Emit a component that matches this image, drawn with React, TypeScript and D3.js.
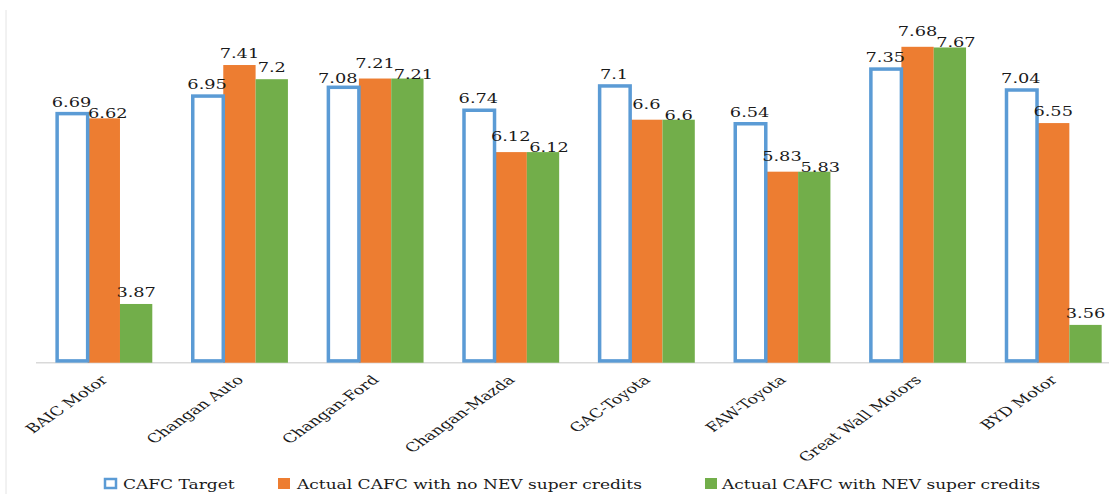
import * as d3 from 'd3'

const categories = ['BAIC Motor', 'Changan Auto', 'Changan-Ford', 'Changan-Mazda', 'GAC-Toyota', 'FAW-Toyota', 'Great Wall Motors', 'BYD Motor']
const seriesNames = ['CAFC Target', 'Actual CAFC with no NEV super credits', 'Actual CAFC with NEV super credits']
const cafcTarget = [6.69, 6.95, 7.08, 6.74, 7.1, 6.54, 7.35, 7.04]
const actualNoNev = [6.62, 7.41, 7.21, 6.12, 6.6, 5.83, 7.68, 6.55]
const actualNev = [3.87, 7.2, 7.21, 6.12, 6.6, 5.83, 7.67, 3.56]
const yDomain: [number, number] = [3, 8]

const W = 1109
const H = 494
const BLUE = '#5B9BD5'
const ORANGE = '#ED7D31'
const GREEN = '#72AE4A'
const FONT = '"DejaVu Serif", serif'
// the source picture is stretched sideways, so text is too
const SX = 1.42
const LABEL_SIZE = 12.5

const series = [
  { name: seriesNames[0], values: cafcTarget, color: BLUE, outline: true },
  { name: seriesNames[1], values: actualNoNev, color: ORANGE, outline: false },
  { name: seriesNames[2], values: actualNev, color: GREEN, outline: false },
]

// rough label width in px, digits vs dot
const labelWidth = (s: string) => [...s].reduce((w, ch) => w + (ch === '.' ? 0.318 : 0.636) * LABEL_SIZE * SX, 0)

export default function App() {
  const x0 = d3.scaleBand<string>().domain(categories).range([36, 1121]).paddingInner(0.285).paddingOuter(0.1425)
  const x1 = d3.scaleBand<number>().domain([0, 1, 2]).range([0, x0.bandwidth()])
  const y = d3.scaleLinear().domain(yDomain).range([362.7, 25.2])
  const base = y(yDomain[0])

  const fmt = (v: number) => String(v)

  // label placement with a simple collision pass (like the office chart does)
  const labels = categories.flatMap((c, i) => {
    const items = series.map((s, si) => {
      const v = s.values[i]
      const cx = (x0(c) ?? 0) + (x1(si) ?? 0) + x1.bandwidth() / 2
      return { key: `${si}-${i}`, text: fmt(v), x: cx, y: y(v) - 7, w: labelWidth(fmt(v)) }
    })
    const [blue, orange, green] = items
    const wide = (a: typeof blue, b: typeof blue) => Math.abs(a.x - b.x) < (a.w + b.w) / 2
    if (Math.abs(orange.y - green.y) < 11) {
      orange.y -= 4
      green.y += 7
      if (wide(orange, green)) green.x += 6
      if (Math.abs(blue.y - orange.y) < 14 && wide(blue, orange)) {
        blue.x -= 5
        blue.y += 3
      }
    } else if (Math.abs(blue.y - orange.y) < 11 && wide(blue, orange)) {
      orange.y += 7
      orange.x += 4
    }
    return items
  })

  // draw filled bars first, outlined ones last so the stroke stays on top
  const order = [1, 2, 0]

  const legendItems = [
    { x: 104, textX: 123 },
    { x: 278, textX: 297 },
    { x: 705, textX: 722 },
  ]

  return (
    <svg width={W} height={H} style={{ position: 'fixed', left: 0, top: 0, background: '#fff' }}>
      <line x1={6} x2={6} y1={10} y2={H} stroke="#E4E4E4" strokeWidth={1} />
      <line x1={36} x2={W} y1={base} y2={base} stroke="#D9D9D9" strokeWidth={1.5} />

      {order.map(si => {
        const s = series[si]
        return (
          <g key={s.name}>
            {s.values.map((v, i) => {
              const bx = (x0(categories[i]) ?? 0) + (x1(si) ?? 0)
              const by = y(v)
              return s.outline ? (
                <rect key={i} x={bx + 1.8} y={by} width={x1.bandwidth() - 1.8} height={base - by - 1.8}
                  fill="#fff" stroke={s.color} strokeWidth={3.5} />
              ) : (
                <rect key={i} x={bx} y={by} width={x1.bandwidth()} height={base - by} fill={s.color} />
              )
            })}
          </g>
        )
      })}

      <g fontFamily={FONT} fontSize={LABEL_SIZE} fill="#1a1a1a" textAnchor="middle">
        {labels.map(l => (
          <text key={l.key} transform={`translate(${l.x},${l.y}) scale(${SX},1)`}>{l.text}</text>
        ))}
      </g>

      <g fontFamily={FONT} fontSize={12.5} fill="#1a1a1a" textAnchor="end">
        {categories.map(c => {
          const cx = (x0(c) ?? 0) + x0.bandwidth() / 2
          return (
            <text key={c} transform={`translate(${cx + 5},${base + 18}) scale(${SX},1) rotate(-45)`}>{c}</text>
          )
        })}
      </g>

      <g fontFamily={FONT} fontSize={12} fill="#1a1a1a">
        {series.map((s, si) => {
          const it = legendItems[si]
          return (
            <g key={'g' + s.name}>
              {s.outline ? (
                <rect x={it.x + 1} y={479} width={11} height={9} fill="#fff" stroke={s.color} strokeWidth={2.5} />
              ) : (
                <rect x={it.x} y={478} width={12} height={11} fill={s.color} />
              )}
              <text transform={`translate(${it.textX},489) scale(${SX},1)`}>{s.name}</text>
            </g>
          )
        })}
      </g>
    </svg>
  )
}
